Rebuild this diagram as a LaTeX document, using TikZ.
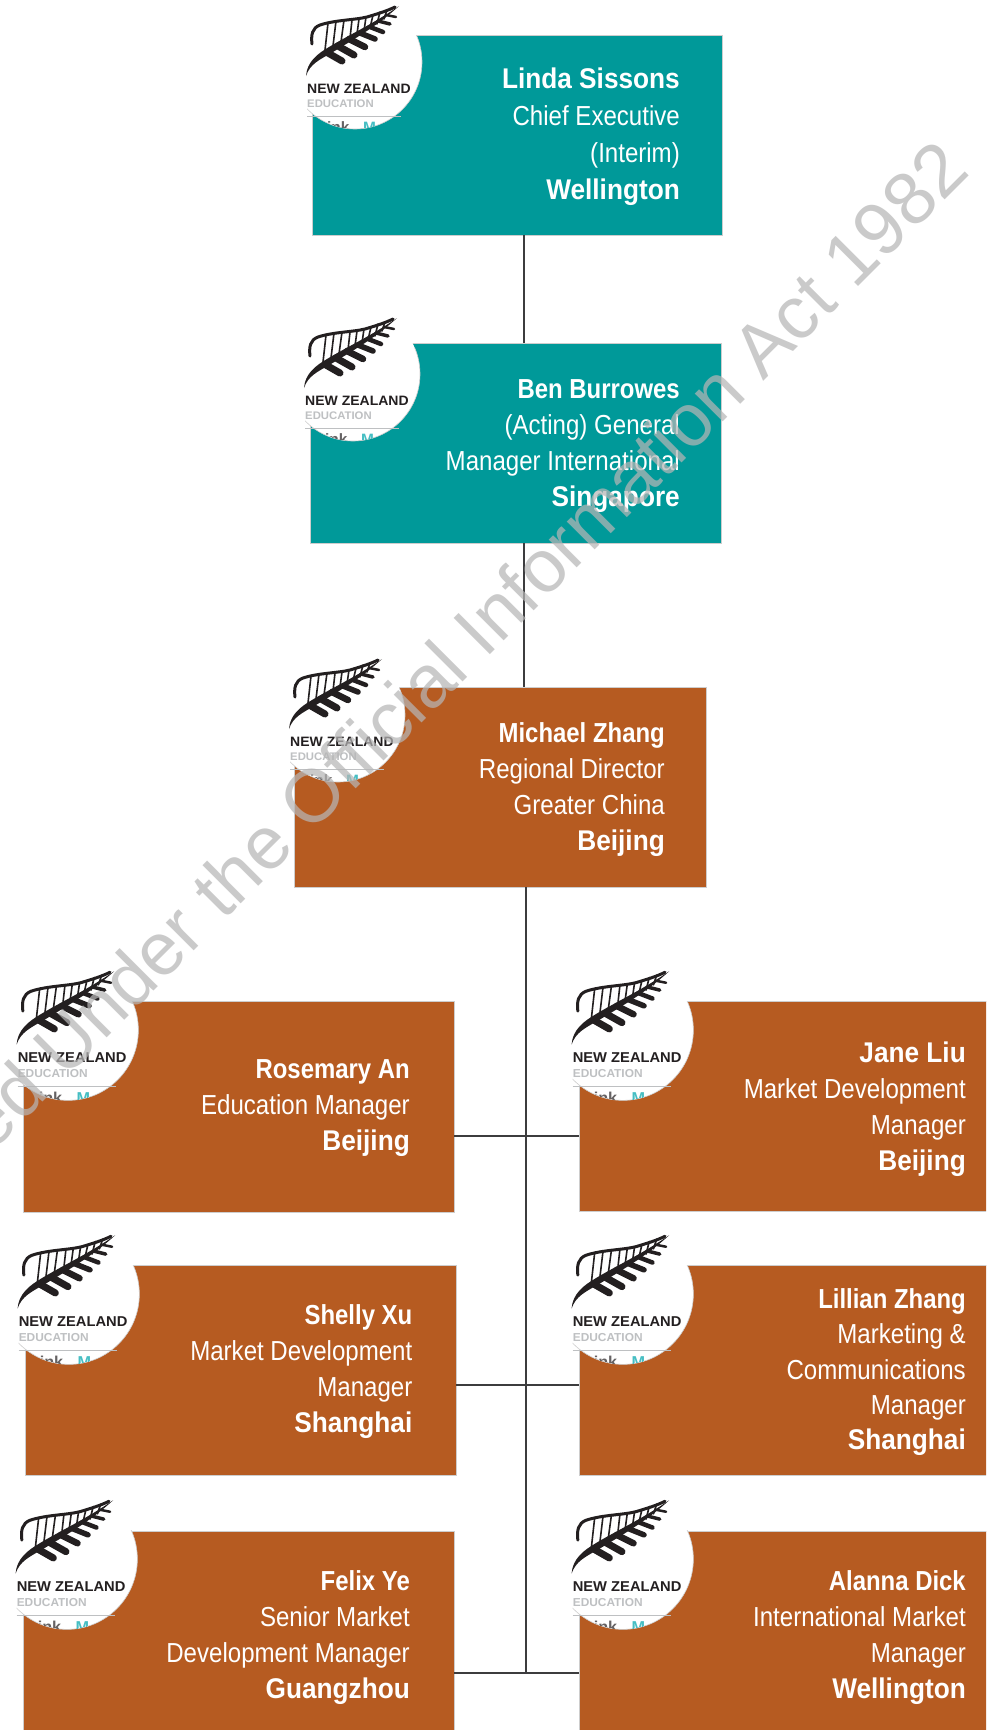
\documentclass[tikz,border=0pt]{standalone}
\usepackage{fontspec}
\setmainfont{Liberation Sans}[FakeStretch=0.875]
\newfontfamily\nameface{Liberation Sans}[FakeStretch=0.87]
\newfontfamily\placeface{Liberation Sans}[FakeStretch=0.92]
\newfontfamily\logofont{Liberation Sans}[FakeStretch=1.03]
\newfontfamily\stampface{Liberation Sans}
\usetikzlibrary{calc}
\definecolor{tealbox}{RGB}{0,153,153}
\definecolor{rustbox}{RGB}{182,91,33}
\definecolor{edgegrey}{RGB}{205,205,205}
\definecolor{linedark}{RGB}{60,60,62}
\definecolor{ferndark}{RGB}{35,31,32}
\definecolor{logogrey}{RGB}{190,192,194}
\definecolor{logoteal}{RGB}{70,190,195}
\definecolor{wmgrey}{RGB}{182,182,182}
\tikzset{
  x=1pt,y=-1pt,
  cardbox/.style={draw=edgegrey,line width=0.9pt,anchor=north west,inner sep=0pt,outer sep=0pt,rectangle},
  tealcard/.style={cardbox,fill=tealbox},
  rustcard/.style={cardbox,fill=rustbox},
  who/.style={anchor=north east,align=right,inner sep=0pt,text=white,font=\fontsize{27.5}{36}\selectfont},
  whotop/.style={who,font=\fontsize{27.5}{37.2}\selectfont},
  whotight/.style={who,font=\fontsize{27.5}{35.3}\selectfont},
  conn/.style={draw=linedark,line width=2.4pt},
  ferna/.style={draw=ferndark,line width=1.6pt,line cap=round},
  fernb/.style={draw=ferndark,line cap=round},
  nzlabel/.style={anchor=base west,inner sep=0pt,transform shape,text=ferndark,font=\logofont\bfseries\fontsize{13.6}{13.6}\selectfont},
  edlabel/.style={anchor=base west,inner sep=0pt,transform shape,text=logogrey,font=\logofont\bfseries\fontsize{11}{11}\selectfont},
  inklabel/.style={anchor=base west,inner sep=0pt,transform shape,font=\logofont\bfseries\fontsize{15}{15}\selectfont},
}
\newcommand{\namerow}[1]{\strut{\nameface\bfseries #1}}
\newcommand{\placerow}[1]{\strut{\placeface\bfseries\fontsize{28.5}{36}\selectfont #1}}
\newcommand{\rolerow}[1]{\strut #1}
% name, cx, cy, scale
\newcommand{\fernlogo}[4]{%
\begin{scope}[shift={(#2,#3)},scale=#4]
  \begin{scope}
    \clip (-48,-80) rectangle (90,80);
    \fill[white] (0,0) circle[radius=67];
  \end{scope}
  \begin{scope}
    \clip (-48,-27) rectangle (90,80);
    \draw[edgegrey,line width=0.6pt] (0,0) circle[radius=67];
  \end{scope}
  % frond: outer arch
  \draw[fernb,line width=3pt] (-43,-18) .. controls (-44,-27) and (-43,-34) .. (-35,-37) .. controls (-20,-42) and (0,-42) .. (12,-45) .. controls (22,-48) and (32,-51) .. (40,-55);
  % frond: midrib, thick in its lower part
  \fill[ferndark] (-49,14) .. controls (-48,0) and (-38,-8) .. (-26,-15) .. controls (-8,-26) and (18,-38) .. (44,-56)
     .. controls (20,-34) and (-6,-20) .. (-22,-10) .. controls (-36,-2) and (-45,2) .. cycle;
  % upper leaflets
  \foreach \ax/\ay/\bx/\by in {-27/-39/-30/-12,-19/-41/-22/-16,-11/-42/-14/-20,-3/-42/-5/-24,4/-43/2/-28,11/-45/9/-31,18/-47/15/-34,25/-50/22/-38,32/-52/29/-43}
    \draw[ferna] (\ax,\ay) -- (\bx,\by);
  % lower leaflets
  \foreach \ax/\ay/\bx/\by/\w in {-27/-9/-13/-1/7,-17/-16/-1/-7/7,-6/-23/10/-15/6.5,5/-29/20/-23/5.5,15/-35/28/-30/4.5,23/-41/35/-38/3.5,31/-47/41/-45/2.5}
    \draw[fernb,line width=\w pt] (\ax,\ay) -- (\bx,\by);
  \node[nzlabel] (#1-nz) at (-48,31) {NEW ZEALAND};
  \node[edlabel] (#1-ed) at (-48,45.5) {EDUCATION};
  \draw[logogrey,line width=0.8pt] (-48,54) -- (46,54);
  \begin{scope}
    \clip (0,0) circle[radius=66.5];
    \node[inklabel,text=ferndark!70] (#1-ink) at (-28,70) {ink};
    \node[inklabel,text=logoteal] (#1-mark) at (8,70) {M};
  \end{scope}
\end{scope}}
\begin{document}
\begin{tikzpicture}
\useasboundingbox (0,0) rectangle (986,1730);
\clip (0,0) rectangle (986,1730);
\fill[white] (0,0) rectangle (986,1730);
\coordinate (upperspine) at (524,0);
\coordinate (lowerspine) at (526,0);
\coordinate (rowa) at (526,1136);
\coordinate (rowb) at (526,1385);
\coordinate (rowc) at (526,1673);

\node[tealcard,minimum width=410pt,minimum height=200pt] (linda) at (312,35) {};
\node[tealcard,minimum width=411pt,minimum height=200pt] (ben) at (310,343) {};
\node[rustcard,minimum width=411.5pt,minimum height=200pt] (michael) at (294.5,687) {};
\node[rustcard,minimum width=431pt,minimum height=211pt] (rosemary) at (23,1001) {};
\node[rustcard,minimum width=431pt,minimum height=210pt] (shelly) at (25,1265) {};
\node[rustcard,minimum width=431pt,minimum height=215pt] (felix) at (23,1531) {};
\node[rustcard,minimum width=415pt,minimum height=210pt] (jane) at (579,1001) {};
\node[rustcard,minimum width=415pt,minimum height=210pt] (lillian) at (579,1265) {};
\node[rustcard,minimum width=415pt,minimum height=215pt] (alanna) at (579,1531) {};

\draw[conn] (upperspine |- linda.south) -- (upperspine |- ben.north);
\draw[conn] (upperspine |- ben.south) -- (upperspine |- michael.north);
\draw[conn] (lowerspine |- michael.south) -- (rowc);
\draw[conn] (rosemary.east |- rowa) -- (jane.west |- rowa);
\draw[conn] (shelly.east |- rowb) -- (lillian.west |- rowb);
\draw[conn] (felix.east |- rowc) -- (alanna.west |- rowc);

\fernlogo{lindal}{355}{62}{1}
\fernlogo{benl}{353}{374}{1}
\fernlogo{michaell}{338}{715}{1}
\fernlogo{rosemaryl}{68}{1030}{1.05}
\fernlogo{shellyl}{69}{1294}{1.05}
\fernlogo{felixl}{67}{1559}{1.05}
\fernlogo{janel}{623}{1030}{1.05}
\fernlogo{lillianl}{623}{1294}{1.05}
\fernlogo{alannal}{623}{1559}{1.05}

\node[whotop] (lindat) at (680,62) {\placerow{Linda Sissons}\\\rolerow{Chief Executive}\\\rolerow{(Interim)}\\\placerow{Wellington}};
\node[who] (bent) at (680,372.8) {\namerow{Ben Burrowes}\\\rolerow{(Acting) General}\\\rolerow{Manager International}\\\placerow{Singapore}};
\node[who] (michaelt) at (665,716.8) {\namerow{Michael Zhang}\\\rolerow{Regional Director}\\\rolerow{Greater China}\\\placerow{Beijing}};
\node[who] (rosemaryt) at (410,1052.8) {\namerow{Rosemary An}\\\rolerow{Education Manager}\\\placerow{Beijing}};
\node[who] (shellyt) at (412.5,1298.8) {\namerow{Shelly Xu}\\\rolerow{Market Development}\\\rolerow{Manager}\\\placerow{Shanghai}};
\node[who] (felixt) at (410,1564.8) {\namerow{Felix Ye}\\\rolerow{Senior Market}\\\rolerow{Development Manager}\\\placerow{Guangzhou}};
\node[who] (janet) at (966,1036.8) {\placerow{Jane Liu}\\\rolerow{Market Development}\\\rolerow{Manager}\\\placerow{Beijing}};
\node[whotight] (lilliant) at (966,1283.5) {\namerow{Lillian Zhang}\\\rolerow{Marketing \&}\\\rolerow{Communications}\\\rolerow{Manager}\\\placerow{Shanghai}};
\node[who] (alannat) at (966,1564.8) {\namerow{Alanna Dick}\\\rolerow{International Market}\\\rolerow{Manager}\\\placerow{Wellington}};

\node[anchor=base east,inner sep=0pt,rotate=45,text=wmgrey,opacity=0.72,font=\stampface\fontsize{74.5}{74.5}\selectfont] (stamp) at (972,173) {ed Under the Official Information Act 1982};
\end{tikzpicture}
\end{document}
